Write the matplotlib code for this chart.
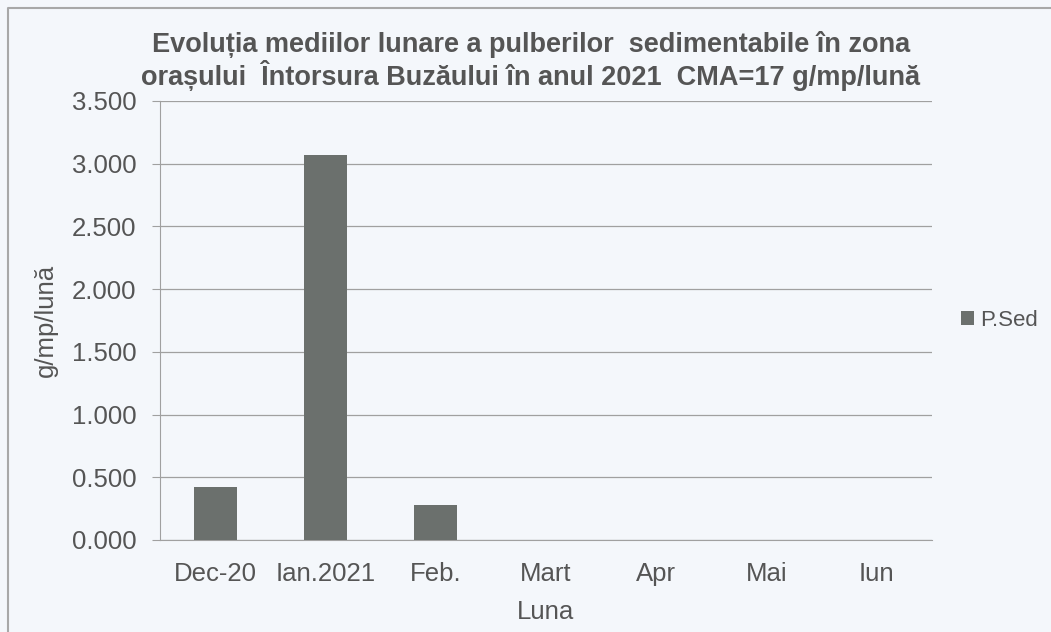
import matplotlib.pyplot as plt
from matplotlib.lines import Line2D
from matplotlib.ticker import FuncFormatter, MultipleLocator

months = ["Dec-20", "Ian.2021", "Feb.", "Mart", "Apr", "Mai", "Iun"]
p_sed = [0.42, 3.07, 0.28, 0, 0, 0, 0]
series_name = "P.Sed"
title = ("Evoluția mediilor lunare a pulberilor  sedimentabile în zona\n"
         "orașului  Întorsura Buzăului în anul 2021  CMA=17 g/mp/lună")

text_color = "#555555"
bar_color = "#6b706d"
bg = "#f4f7fb"
label_size = 18.5

plt.rcParams["font.family"] = ["Liberation Sans", "DejaVu Sans"]

fig = plt.figure(figsize=(10.51, 6.32), dpi=100, facecolor=bg)
# chart frame: only its top and left edges fall inside the scan
fig.add_artist(Line2D([0.008, 0.008, 1.0], [0.0, 0.987, 0.987], transform=fig.transFigure,
                      color="#a8a8a8", linewidth=1.5))
ax = fig.add_axes([0.1522, 0.1456, 0.7346, 0.6946], facecolor=bg)

x = range(len(months))
ax.bar(x, p_sed, width=0.39, color=bar_color, label=series_name, zorder=3)

ax.set_xlim(-0.5, len(months) - 0.5)
ax.set_ylim(0, 3.5)
ax.yaxis.set_major_locator(MultipleLocator(0.5))
ax.yaxis.set_major_formatter(FuncFormatter(lambda v, _: f"{v:.3f}"))
ax.set_xticks(list(x), months)
ax.grid(axis="y", color="#a0a0a0", linewidth=0.9, zorder=0)

for side in ("top", "right"):
    ax.spines[side].set_visible(False)
ax.spines["left"].set_color("#a0a0a0")
ax.spines["bottom"].set_color("#a0a0a0")
ax.tick_params(axis="y", length=6, color="#a0a0a0", labelsize=label_size,
               labelcolor=text_color, pad=11)
ax.tick_params(axis="x", length=0, labelsize=label_size, labelcolor=text_color, pad=16)

ax.set_ylabel("g/mp/lună", fontsize=label_size, color=text_color, labelpad=10)
ax.set_xlabel("Luna", fontsize=label_size, color=text_color, labelpad=10)

fig.text(0.505, 0.903, title, ha="center", va="center", fontsize=19.5,
         fontweight="bold", color=text_color, linespacing=1.08,
         family=["Liberation Sans Narrow", "Liberation Sans", "DejaVu Sans"])

ax.legend(loc="center left", bbox_to_anchor=(1.012, 0.5), frameon=False,
          fontsize=16, labelcolor=text_color, handlelength=0.55, handleheight=0.55,
          handletextpad=0.3)

fig.savefig("out.png", dpi=100, facecolor=bg)
